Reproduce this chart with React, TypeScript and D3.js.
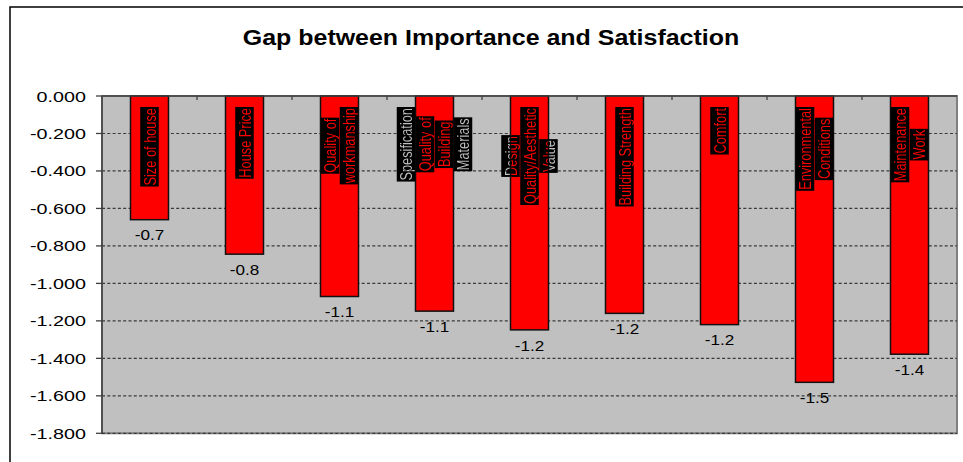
import React, { useMemo } from "react";
import * as d3 from "d3";

// Chart data
const chartTitle = "Gap between Importance and Satisfaction";
const categories = [
  "Size of house",
  "House Price",
  "Quality of workmanship",
  "Spesification Quality of Building Materials",
  "Design Quality/Aesthetic Value",
  "Building Strength",
  "Comfort",
  "Environmental Conditions",
  "Maintenance Work",
];
// How each category name is wrapped inside its bar
const categoryLines = [
  ["Size of house"],
  ["House Price"],
  ["Quality of", "workmanship"],
  ["Spesification", "Quality of", "Building", "Materials"],
  ["Design", "Quality/Aesthetic", "Value"],
  ["Building Strength"],
  ["Comfort"],
  ["Environmental", "Conditions"],
  ["Maintenance", "Work"],
];
const gapValues = [-0.66, -0.844, -1.07, -1.148, -1.248, -1.16, -1.22, -1.528, -1.378];
const yTickValues = [0, -0.2, -0.4, -0.6, -0.8, -1.0, -1.2, -1.4, -1.6, -1.8];

const W = 963;
const H = 462;
const FONT = "Arial, 'Liberation Sans', sans-serif";
const plot = { left: 102, right: 957, top: 96, bottom: 433.3 };

const LABEL_FS = 12.8;
const LABEL_GLYPH_STRETCH = 1.3;
const LINE_PITCH = 19;
const BOX_W = 18.5;
const BLOCK_TOP = 107;

// number formatting with a plain hyphen-minus
const locale = d3.formatLocale({
  decimal: ".",
  thousands: ",",
  grouping: [3],
  currency: ["", ""],
  minus: "-",
});

let measureCtx: CanvasRenderingContext2D | null = null;
function textWidth(s: string, font: string): number {
  if (!measureCtx) {
    const c = document.createElement("canvas");
    measureCtx = c.getContext("2d");
  }
  if (!measureCtx) return s.length * 7;
  measureCtx.font = font;
  return measureCtx.measureText(s).width;
}

export default function App() {
  const x = useMemo(
    () =>
      d3
        .scaleBand<string>()
        .domain(categories)
        .range([plot.left, plot.right])
        .paddingInner(0.6)
        .paddingOuter(0.3),
    []
  );
  const y = useMemo(
    () => d3.scaleLinear().domain([-1.8, 0]).range([plot.bottom, plot.top]),
    []
  );
  const fmtTick = locale.format(".3f");
  const fmtVal = locale.format(".1f");
  const step = x.step();
  const bw = x.bandwidth();

  // Category label boxes (rotated, one box per wrapped line)
  const labelFont = `${LABEL_FS}px Arial, 'Liberation Sans', sans-serif`;
  const labelBoxes = categories.flatMap((c, i) => {
    const lines = categoryLines[i];
    const cx = (x(c) as number) + bw / 2;
    const lens = lines.map((l) => textWidth(l, labelFont));
    const blockLen = Math.max(...lens) + 2;
    const midY = BLOCK_TOP + blockLen / 2;
    return lines.map((l, j) => {
      const bx = cx + (j - (lines.length - 1) / 2) * LINE_PITCH;
      const len = lens[j] + 2;
      return { key: `${i}-${j}`, text: l, bx, midY, len };
    });
  });

  return (
    <svg
      width={W}
      height={H}
      viewBox={`0 0 ${W} ${H}`}
      style={{ position: "absolute", left: 0, top: 0, background: "#fff" }}
      fontFamily={FONT}
    >
      <defs>
        <mask id="labelKnockout" maskUnits="userSpaceOnUse" x={0} y={0} width={W} height={H}>
          {labelBoxes.map((b) => (
            <rect
              key={b.key}
              x={b.bx - BOX_W / 2}
              y={b.midY - b.len / 2}
              width={BOX_W}
              height={b.len}
              fill="#fff"
            />
          ))}
          {labelBoxes.map((b) => (
            <text
              key={b.key}
              transform={`translate(${b.bx},${b.midY}) rotate(-90) scale(1,${LABEL_GLYPH_STRETCH})`}
              x={0}
              y={LABEL_FS * 0.36}
              textAnchor="middle"
              fontSize={LABEL_FS}
              fill="#000"
            >
              {b.text}
            </text>
          ))}
        </mask>
      </defs>

      {/* chart frame */}
      <rect x={10} y={7} width={1000} height={1000} fill="#fff" stroke="#000" strokeWidth={1.5} />

      {/* title */}
      <text
        transform={`translate(${(plot.left + plot.right) / 2 - 38.5},44.7) scale(1.14,1)`}
        textAnchor="middle"
        fontSize={21.9}
        fontWeight="bold"
        fill="#000"
      >
        {chartTitle}
      </text>

      {/* plot area */}
      <rect
        x={plot.left}
        y={plot.top}
        width={plot.right - plot.left}
        height={plot.bottom - plot.top}
        fill="#c0c0c0"
        stroke="#808080"
        strokeWidth={2}
      />

      {/* gridlines */}
      {yTickValues
        .filter((v) => v !== 0)
        .map((v) => (
          <line
            key={`g${v}`}
            x1={plot.left}
            x2={plot.right}
            y1={y(v)}
            y2={y(v)}
            stroke="#3a3a3a"
            strokeWidth={1.2}
            strokeDasharray="3,2.3"
          />
        ))}

      {/* bars */}
      {categories.map((c, i) => (
        <rect
          key={c}
          x={x(c)}
          y={y(0)}
          width={bw}
          height={y(gapValues[i]) - y(0)}
          fill="#ff0000"
          stroke="#111"
          strokeWidth={1.5}
        />
      ))}

      {/* category name boxes with knocked-out text */}
      <rect x={0} y={0} width={W} height={H} fill="#000" mask="url(#labelKnockout)" />

      {/* value labels */}
      {categories.map((c, i) => (
        <text
          key={`v${c}`}
          transform={`translate(${(x(c) as number) + bw / 2},${y(gapValues[i]) + 20.7}) scale(1.14,1)`}
          textAnchor="middle"
          fontSize={15}
          fill="#000"
        >
          {fmtVal(gapValues[i])}
        </text>
      ))}

      {/* value axis */}
      <line x1={plot.left} x2={plot.left} y1={plot.top} y2={plot.bottom} stroke="#404040" strokeWidth={1.5} />
      {yTickValues.map((v) => (
        <g key={`t${v}`}>
          <line x1={plot.left - 6} x2={plot.left} y1={y(v)} y2={y(v)} stroke="#404040" strokeWidth={1.3} />
          <text
            transform={`translate(86,${y(v) + 5.5}) scale(1.39,1)`}
            textAnchor="end"
            fontSize={14.2}
            fill="#000"
          >
            {fmtTick(v)}
          </text>
        </g>
      ))}

      {/* category axis along zero */}
      <line x1={plot.left} x2={plot.right} y1={y(0)} y2={y(0)} stroke="#404040" strokeWidth={1.5} />
      {d3.range(1, categories.length).map((k) => (
        <line
          key={`ct${k}`}
          x1={plot.left + k * step}
          x2={plot.left + k * step}
          y1={y(0)}
          y2={y(0) + 4}
          stroke="#404040"
          strokeWidth={1.3}
        />
      ))}
    </svg>
  );
}
